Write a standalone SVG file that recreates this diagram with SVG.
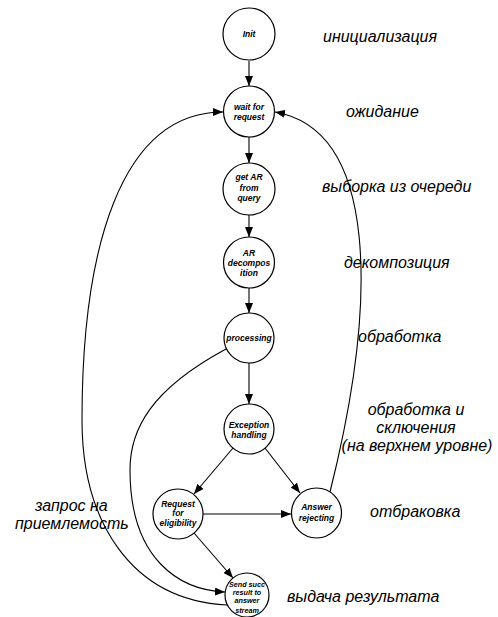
<svg xmlns="http://www.w3.org/2000/svg" width="498" height="617" viewBox="0 0 498 617">
<style>
.n{fill:#fff;stroke:#000;stroke-width:1.2}
.t{font-family:"Liberation Sans",Arial,sans-serif;font-size:8.5px;font-weight:bold;font-style:italic;text-anchor:middle;fill:#000}
.ts{font-size:7.2px}
.c{fill:none;stroke:#000;stroke-width:1.1}
.l{font-family:"Liberation Sans",Arial,sans-serif;font-size:16px;font-style:italic;fill:#000}
.m{text-anchor:middle}
</style>
<defs>
<marker id="a" viewBox="0 0 10 8" refX="10" refY="4" markerWidth="10" markerHeight="8" markerUnits="userSpaceOnUse" orient="auto">
<path d="M0,0 L10,4 L0,8 z" fill="#000"/>
</marker>
</defs>
<rect width="498" height="617" fill="#fff"/>
<g id="connectors">
<path class="c" marker-end="url(#a)" d="M249,61 L249,86"/>
<path class="c" marker-end="url(#a)" d="M249,137 L249,163"/>
<path class="c" marker-end="url(#a)" d="M249,215 L249,237"/>
<path class="c" marker-end="url(#a)" d="M249,288 L249,313"/>
<path class="c" marker-end="url(#a)" d="M249,363 L249,404"/>
<path class="c" marker-end="url(#a)" d="M233,448 L194,494"/>
<path class="c" marker-end="url(#a)" d="M265,448 L300,493"/>
<path class="c" marker-end="url(#a)" d="M203,514 L291,514"/>
<path class="c" marker-end="url(#a)" d="M194,533 L233,578"/>
<path class="c" marker-end="url(#a)" d="M226,349 C150,390 130,430 130,470 C130,560 180,590 225,592"/>
<path class="c" marker-end="url(#a)" d="M227,605 C130,600 82,520 82,420 C82,250 120,112 223,112"/>
<path class="c" marker-end="url(#a)" d="M330,492 C378,300 378,130 275,112"/>
</g>
<g id="init"><circle class="n" cx="249" cy="34" r="26"/><text class="t" x="249" y="37">Init</text></g>
<g id="wait"><circle class="n" cx="249" cy="111.5" r="25.5"/><text class="t" x="249" y="110">wait for</text><text class="t" x="249" y="120">request</text></g>
<g id="getar"><circle class="n" cx="249" cy="189" r="26"/><text class="t" x="249" y="180">get AR</text><text class="t" x="249" y="191">from</text><text class="t" x="249" y="201">query</text></g>
<g id="ardecomp"><circle class="n" cx="249" cy="262.5" r="25.5"/><text class="t" x="249" y="256">AR</text><text class="t" x="249" y="265.5">decompos</text><text class="t" x="249" y="275.5">ition</text></g>
<g id="processing"><circle class="n" cx="249" cy="338" r="25"/><text class="t" x="249" y="340.5">processing</text></g>
<g id="exception"><circle class="n" cx="249" cy="429" r="25"/><text class="t" x="249" y="428">Exception</text><text class="t" x="249" y="438">handling</text></g>
<g id="request"><circle class="n" cx="178" cy="514" r="25"/><text class="t" x="178" y="507">Request</text><text class="t" x="178" y="516">for</text><text class="t" x="178" y="526">eligibility</text></g>
<g id="answer"><circle class="n" cx="316.5" cy="513" r="25"/><text class="t" x="316.5" y="510">Answer</text><text class="t" x="316.5" y="521">rejecting</text></g>
<g id="send"><circle class="n" cx="247" cy="595" r="22"/><text class="t ts" x="247" y="587">Send succ</text><text class="t ts" x="247" y="595">result to</text><text class="t ts" x="247" y="603">answer</text><text class="t ts" x="247" y="613">stream</text></g>
<g id="labels">
<text class="l" x="323" y="42">инициализация</text>
<text class="l" x="346" y="117">ожидание</text>
<text class="l" x="322" y="192">выборка из очереди</text>
<text class="l" x="344" y="268">декомпозиция</text>
<text class="l" x="358" y="342">обработка</text>
<text class="l m" x="416" y="415">обработка и</text>
<text class="l m" x="416" y="433">сключения</text>
<text class="l m" x="417" y="451">(на верхнем уровне)</text>
<text class="l" x="370" y="517">отбраковка</text>
<text class="l" x="287" y="602">выдача результата</text>
<text class="l" x="35" y="511">запрос на</text>
<text class="l" x="15" y="529">приемлемость</text>
</g>
</svg>
